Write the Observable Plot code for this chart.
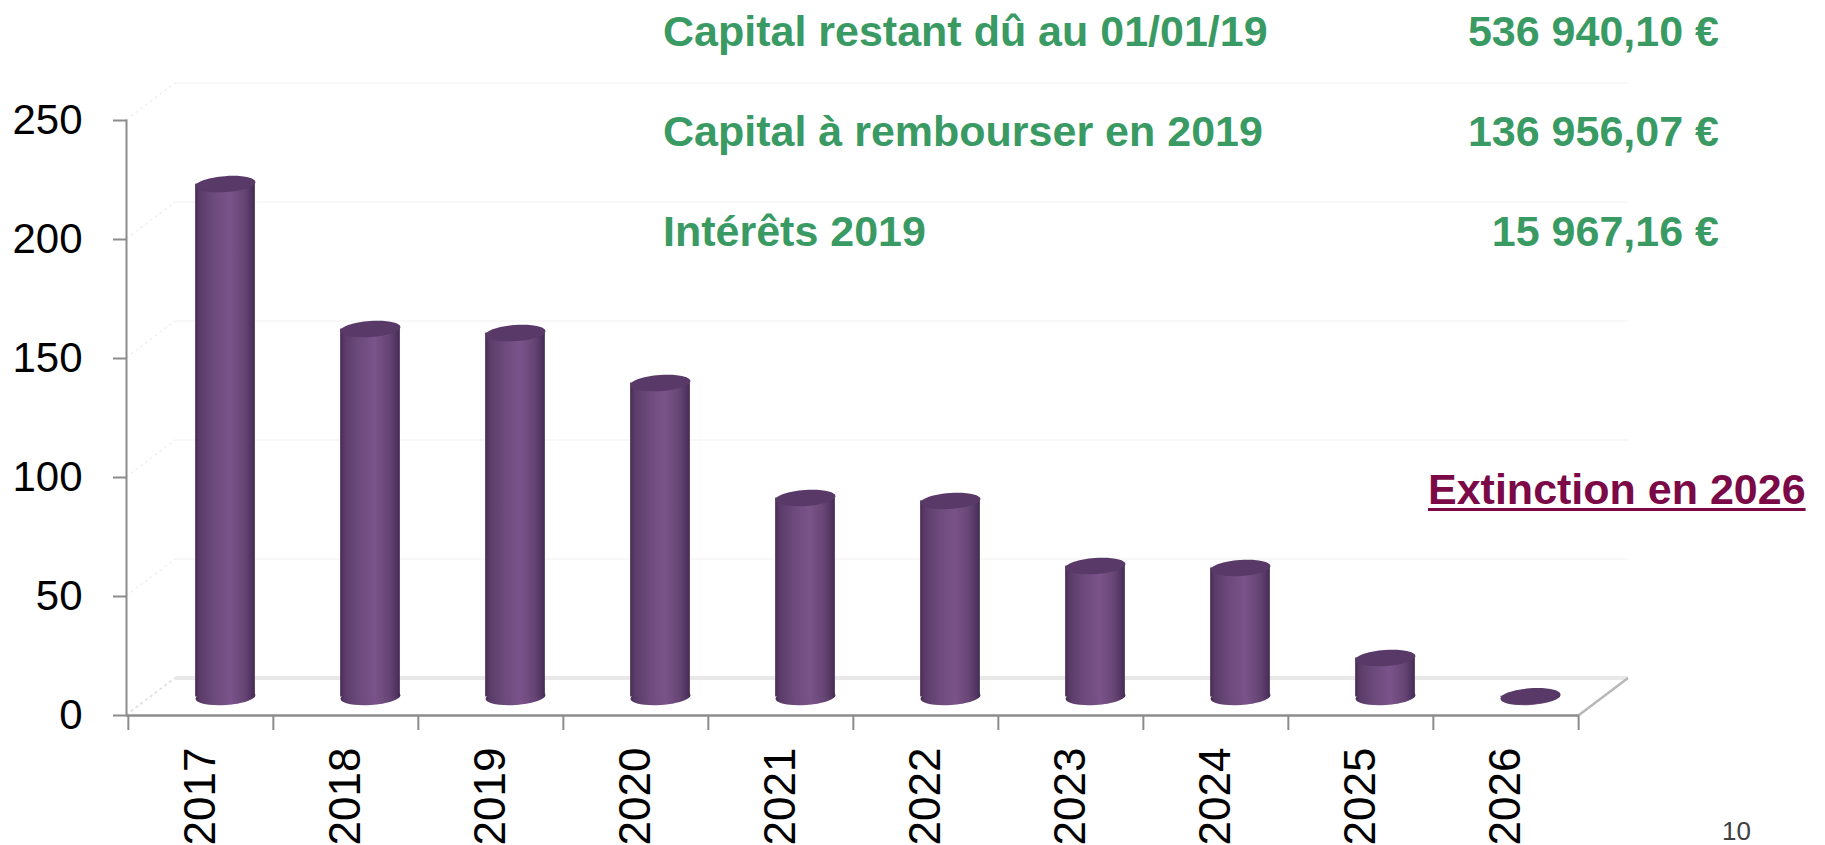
<!DOCTYPE html>
<html>
<head>
<meta charset="utf-8">
<script src="https://cdn.jsdelivr.net/npm/d3@7"></script>
<script src="https://cdn.jsdelivr.net/npm/@observablehq/plot@0.6"></script>
<style>
  body { margin: 0; background: #fff; }
  #wrap { position: relative; width: 1825px; height: 845px; overflow: hidden; font-family: "Liberation Sans", Arial, sans-serif; }
  #wrap svg { position: absolute; left: 0; top: 0; }
  .t { position: absolute; font-weight: bold; font-size: 43px; line-height: 1; white-space: nowrap; }
  .g { color: #3a9a63; }
  .lab { left: 663px; }
  .val { left: 1300px; width: 419px; text-align: right; }
  .ext { color: #7b0947; left: 1428px; top: 468px; text-decoration: underline; text-decoration-thickness: 3px; text-underline-offset: 4px; }
  .pg { position: absolute; left: 1722px; top: 818px; font-size: 26px; line-height: 1; color: #404040; }
</style>
</head>
<body>
<div id="wrap"></div>
<script>
// ---- data ----
const years = ["2017", "2018", "2019", "2020", "2021", "2022", "2023", "2024", "2025", "2026"];
const values = [215.5, 154.6, 152.9, 131.9, 83.6, 82.4, 55.0, 54.2, 16.4, 0.3];
const yTicks = [0, 50, 100, 150, 200, 250];
const infoLabels = ["Capital restant dû au 01/01/19", "Capital à rembourser en 2019", "Intérêts 2019"];
const infoValues = ["536 940,10 €", "136 956,07 €", "15 967,16 €"];
const noteText = "Extinction en 2026";
const pageNumber = "10";

const data = years.map((year, i) => ({year, value: values[i]}));

// ---- layout / style ----
const W = 1825, H = 845;
const ml = 126, mr = 246, mt = 120, mb = 130;
const depth = {x: 49, y: -37};
const band = (W - ml - mr) / years.length;
const cylW = 60;
const ins = (band - cylW) / 2;
const axisGray = "#8c8c8c";

// ellipse symbol for cylinder caps
const ellipse = {
  draw(ctx) {
    const rx = cylW / 2, ry = 8, k = 0.5523;
    ctx.moveTo(rx, 0);
    ctx.bezierCurveTo(rx, ry * k, rx * k, ry, 0, ry);
    ctx.bezierCurveTo(-rx * k, ry, -rx, ry * k, -rx, 0);
    ctx.bezierCurveTo(-rx, -ry * k, -rx * k, -ry, 0, -ry);
    ctx.bezierCurveTo(rx * k, -ry, rx, -ry * k, rx, 0);
    ctx.closePath();
  }
};

// 3D floor + back-wall gridlines, positioned by the plot's scales
function floor(index, {y}, values, dims) {
  const g = d3.create("svg:g");
  const x0 = dims.marginLeft, x1 = dims.width - dims.marginRight, y0 = y(0);
  for (const t of yTicks) {
    g.append("line")
      .attr("x1", x0 + depth.x).attr("x2", x1 + depth.x)
      .attr("y1", y(t) + depth.y).attr("y2", y(t) + depth.y)
      .attr("stroke", "#f6f6f6").attr("stroke-width", 1.5);
    g.append("line")
      .attr("x1", x0).attr("y1", y(t))
      .attr("x2", x0 + depth.x).attr("y2", y(t) + depth.y)
      .attr("stroke", "#eeeeee").attr("stroke-width", 1.2).attr("stroke-dasharray", "3,3");
  }
  g.append("path")
    .attr("d", `M${x0},${y0}L${x1},${y0}L${x1 + depth.x},${y0 + depth.y}L${x0 + depth.x},${y0 + depth.y}Z`)
    .attr("fill", "#fff");
  g.append("line")
    .attr("x1", x0 + depth.x).attr("x2", x1 + depth.x)
    .attr("y1", y0 + depth.y).attr("y2", y0 + depth.y)
    .attr("stroke", "#e8e8e8").attr("stroke-width", 4);
  g.append("line")
    .attr("x1", x1).attr("y1", y0)
    .attr("x2", x1 + depth.x).attr("y2", y0 + depth.y)
    .attr("stroke", "#b8b8b8").attr("stroke-width", 2.5);
  g.append("line")
    .attr("x1", x0).attr("y1", y0)
    .attr("x2", x0 + depth.x).attr("y2", y0 + depth.y)
    .attr("stroke", "#dddddd").attr("stroke-width", 1.5).attr("stroke-dasharray", "3,3");
  return g.node();
}

const chart = Plot.plot({
  width: W,
  height: H,
  marginLeft: ml,
  marginRight: mr,
  marginTop: mt,
  marginBottom: mb,
  style: {fontFamily: "'Liberation Sans', Arial, sans-serif", background: "transparent", overflow: "visible"},
  x: {type: "band", domain: years, padding: 0, axis: null},
  y: {domain: [0, 250], axis: null},
  marks: [
    floor,
    Plot.frame({anchor: "left", stroke: axisGray, strokeWidth: 2}),
    Plot.ruleY([0], {stroke: axisGray, strokeWidth: 2.5}),
    Plot.axisY(yTicks, {tickSize: 13, tickPadding: 31, fontSize: 42, stroke: axisGray, strokeWidth: 2, fill: "#000", label: null}),
    Plot.axisX(years, {tickSize: 15, fill: "none", dx: -band / 2, stroke: axisGray, strokeWidth: 2, label: null}),
    Plot.axisX([years[years.length - 1]], {tickSize: 15, fill: "none", dx: band / 2, stroke: axisGray, strokeWidth: 2, label: null}),
    Plot.axisX(years, {tickSize: 0, tickPadding: 32, tickRotate: -90, fontSize: 44, fill: "#000", label: null}),
    // cylinder bottom caps
    Plot.dot(data, {x: "year", y: d => 0, symbol: ellipse, fill: "url(#cyl)", stroke: "none", rotate: -4, dx: depth.x / 2, dy: depth.y / 2}),
    // cylinder bodies
    Plot.barY(data, {x: "year", y1: d => 0, y2: "value", fill: "url(#cyl)", insetLeft: ins, insetRight: ins, dx: depth.x / 2, dy: depth.y / 2}),
    // cylinder top caps
    Plot.dot(data, {x: "year", y: "value", symbol: ellipse, fill: "#583967", stroke: "none", rotate: -4, dx: depth.x / 2, dy: depth.y / 2})
  ]
});

const svg = d3.select(chart);
const grad = svg.insert("defs", ":first-child").append("linearGradient")
  .attr("id", "cyl").attr("x1", 0).attr("x2", 1).attr("y1", 0).attr("y2", 0);
[[0, "#462b52"], [0.07, "#5a3b68"], [0.3, "#6b4a7b"], [0.58, "#7a538a"], [0.82, "#664574"], [0.95, "#4f3360"], [1, "#452a50"]]
  .forEach(([o, c]) => grad.append("stop").attr("offset", o).attr("stop-color", c));

const wrap = document.getElementById("wrap");
wrap.appendChild(chart);

const tops = [10, 110, 210];
infoLabels.forEach((s, i) => {
  const d = document.createElement("div");
  d.className = "t g lab"; d.style.top = tops[i] + "px"; d.textContent = s;
  wrap.appendChild(d);
  const v = document.createElement("div");
  v.className = "t g val"; v.style.top = tops[i] + "px"; v.textContent = infoValues[i];
  wrap.appendChild(v);
});
const ext = document.createElement("div");
ext.className = "t ext"; ext.textContent = noteText;
wrap.appendChild(ext);
const pg = document.createElement("div");
pg.className = "pg"; pg.textContent = pageNumber;
wrap.appendChild(pg);
</script>
</body>
</html>
